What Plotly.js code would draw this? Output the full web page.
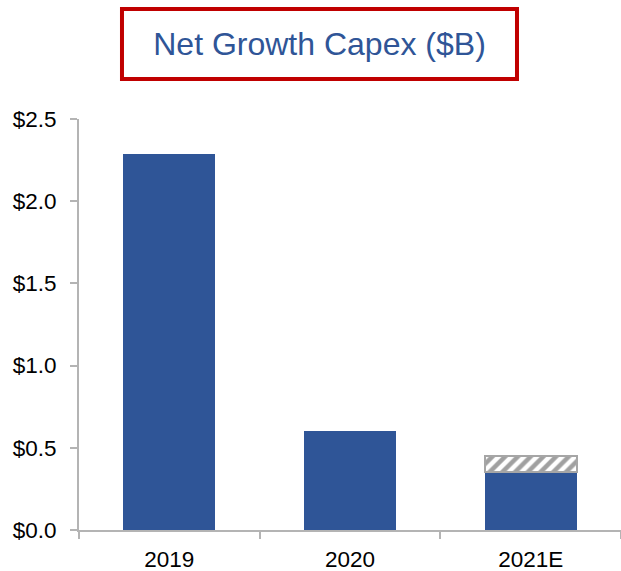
<!DOCTYPE html>
<html>
<head>
<meta charset="utf-8">
<script src="https://cdn.plot.ly/plotly-3.0.1.min.js"></script>
<style>
html, body { margin: 0; padding: 0; background: #ffffff; }
#chart { width: 621px; height: 571px; }
</style>
</head>
<body>
<div id="chart"></div>
<script>
// ---- data ----
const categories = ["2019", "2020", "2021E"];
const capexBase = [2.29, 0.60, 0.35];
const capexUpside = [null, null, 0.10];
const yTickVals = [0, 0.5, 1.0, 1.5, 2.0, 2.5];
const yTickText = ["$0.0", "$0.5", "$1.0", "$1.5", "$2.0", "$2.5"];
const chartTitle = "Net Growth Capex ($B)";

const BLUE = "#2f5597";
const AXIS = "#b4b4b4";
const FONT = "Liberation Sans, Arial, sans-serif";

const traces = [
  {
    type: "bar",
    x: categories,
    y: capexBase,
    marker: { color: BLUE, line: { width: 0 } },
    hoverinfo: "skip"
  },
  {
    type: "bar",
    x: categories,
    y: capexUpside,
    marker: {
      color: "#ffffff",
      line: { color: "#a6a6a6", width: 2 },
      pattern: { shape: "/", fgcolor: "#a0a0a0", bgcolor: "#ffffff", size: 9, solidity: 0.5 }
    },
    hoverinfo: "skip"
  }
];

const layout = {
  width: 621,
  height: 571,
  margin: { l: 79, r: 0, t: 119, b: 41, pad: 0 },
  paper_bgcolor: "#ffffff",
  plot_bgcolor: "#ffffff",
  barmode: "stack",
  bargap: 0.49,
  showlegend: false,
  font: { family: FONT, size: 22.5, color: "#000000" },
  title: {
    text: chartTitle,
    font: { family: FONT, size: 32, color: BLUE },
    x: 0.5145, xanchor: "center", xref: "container",
    y: 0.923, yanchor: "middle", yref: "container"
  },
  xaxis: {
    type: "category",
    showline: true, linecolor: AXIS, linewidth: 2,
    ticks: "outside", tickson: "boundaries", ticklen: 7, tickcolor: AXIS, tickwidth: 2,
    showgrid: false, zeroline: false,
    tickfont: { family: FONT, size: 22.5, color: "#000000" },
    ticklabelstandoff: 8,
    fixedrange: true
  },
  yaxis: {
    range: [0, 2.5],
    tickvals: yTickVals,
    ticktext: yTickText,
    showline: true, linecolor: AXIS, linewidth: 2,
    ticks: "outside", ticklen: 7, tickcolor: AXIS, tickwidth: 2,
    showgrid: false, zeroline: false,
    tickfont: { family: FONT, size: 22.5, color: "#000000" },
    ticklabelstandoff: 9,
    fixedrange: true
  },
  shapes: [
    {
      type: "rect", xref: "paper", yref: "paper",
      x0: 0.0793, x1: 0.8081, y0: 1.0973, y1: 1.2676,
      line: { color: "#c00000", width: 4 },
      fillcolor: "rgba(0,0,0,0)",
      layer: "below"
    }
  ]
};

Plotly.newPlot("chart", traces, layout, { displayModeBar: false, staticPlot: true });
</script>
</body>
</html>
